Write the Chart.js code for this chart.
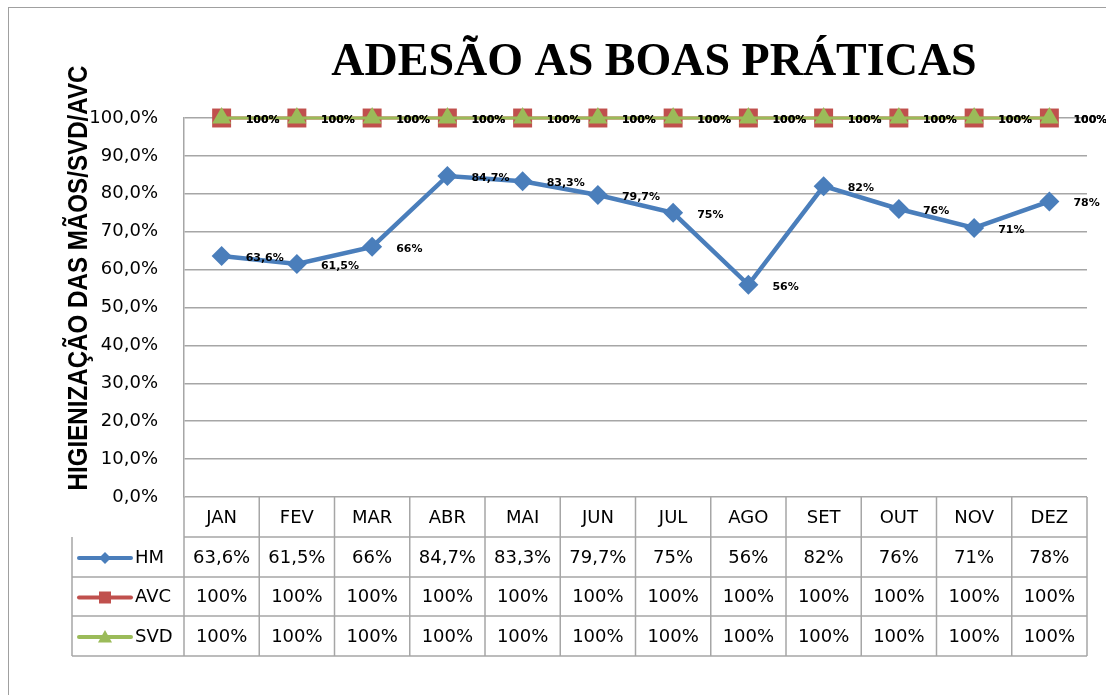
<!DOCTYPE html>
<html>
<head>
<meta charset="utf-8">
<script src="https://cdn.jsdelivr.net/npm/chart.js"></script>
<style>
  body { margin: 0; background: #fff; }
  canvas { display: block; }
</style>
</head>
<body>
<canvas id="chart" width="1106" height="695"></canvas>
<script>
// Данные графика
const months = ['JAN', 'FEV', 'MAR', 'ABR', 'MAI', 'JUN', 'JUL', 'AGO', 'SET', 'OUT', 'NOV', 'DEZ'];
const hmValues = [63.6, 61.5, 66, 84.7, 83.3, 79.7, 75, 56, 82, 76, 71, 78];
const avcValues = [100, 100, 100, 100, 100, 100, 100, 100, 100, 100, 100, 100];
const svdValues = [100, 100, 100, 100, 100, 100, 100, 100, 100, 100, 100, 100];
const yTicks = [0, 10, 20, 30, 40, 50, 60, 70, 80, 90, 100];

const chartTitle = 'ADESÃO AS BOAS PRÁTICAS';
const yTitle = 'HIGIENIZAÇÃO DAS MÃOS/SVD/AVC';

const BLUE = '#4a7ebb';
const RED = '#c0504d';
const GREEN = '#9bbb59';
const GRID = '#a6a6a6';

function fmtPct(v) {
    return String(v).replace('.', ',') + '%';
}

// Маркер для ключей легенды в таблице
function drawMarker(ctx, style, x, y, r, color) {
    ctx.fillStyle = color;
    ctx.beginPath();
    if (style === 'rectRot') {
        ctx.moveTo(x - r, y); ctx.lineTo(x, y - r); ctx.lineTo(x + r, y); ctx.lineTo(x, y + r);
    } else if (style === 'rect') {
        ctx.rect(x - r, y - r, 2 * r, 2 * r);
    } else {
        ctx.moveTo(x, y - r); ctx.lineTo(x + r, y + r * 0.8); ctx.lineTo(x - r, y + r * 0.8);
    }
    ctx.closePath();
    ctx.fill();
}

// Рамка, заголовки, подписи и таблица данных
const decorPlugin = {
    id: 'decor',
    beforeDraw(chart) {
        const ctx = chart.ctx;
        ctx.save();
        ctx.strokeStyle = '#a0a0a0';
        ctx.lineWidth = 1;
        ctx.strokeRect(8.5, 7.5, 1300, 900);
        ctx.restore();
    },
    afterDatasetsDraw(chart) {
        const ctx = chart.ctx;
        ctx.save();
        ctx.font = 'bold 11px "DejaVu Sans"';
        ctx.fillStyle = '#000';
        ctx.textBaseline = 'middle';
        ctx.textAlign = 'left';
        chart.data.datasets.forEach((ds, i) => {
            const meta = chart.getDatasetMeta(i);
            meta.data.forEach((pt, j) => {
                ctx.fillText(fmtPct(ds.data[j]), pt.x + 24, pt.y + 2);
            });
        });
        ctx.restore();
    },
    afterDraw(chart) {
        const ctx = chart.ctx;
        const area = chart.chartArea;
        const xs = chart.scales.x;
        ctx.save();

        // Заголовок
        ctx.fillStyle = '#000';
        ctx.font = 'bold 46px "Liberation Serif"';
        ctx.textAlign = 'center';
        ctx.textBaseline = 'alphabetic';
        ctx.fillText(chartTitle, 654, 75);

        // Подпись оси Y
        ctx.save();
        ctx.translate(87, 278);
        ctx.rotate(-Math.PI / 2);
        ctx.font = 'bold 28px "Liberation Sans Narrow", "Liberation Sans"';
        const w = ctx.measureText(yTitle).width;
        ctx.scale(425 / w, 1);
        ctx.fillText(yTitle, 0, 0);
        ctx.restore();

        // Таблица данных
        const rows = [
            { name: 'HM', values: hmValues, color: BLUE, marker: 'rectRot', r: 6, lw: 4 },
            { name: 'AVC', values: avcValues, color: RED, marker: 'rect', r: 6, lw: 4 },
            { name: 'SVD', values: svdValues, color: GREEN, marker: 'tri', r: 7, lw: 4 }
        ];
        const rowY = [area.bottom, 537, 577, 616, 656];
        const tableLeft = 72;
        const step = (area.right - area.left) / months.length;

        ctx.strokeStyle = GRID;
        ctx.lineWidth = 1.5;
        ctx.beginPath();
        for (let k = 1; k < rowY.length; k++) {
            ctx.moveTo(k === 1 ? area.left : tableLeft, rowY[k]);
            ctx.lineTo(area.right, rowY[k]);
        }
        ctx.moveTo(tableLeft, rowY[1]);
        ctx.lineTo(tableLeft, rowY[4]);
        for (let c = 0; c <= months.length; c++) {
            const x = area.left + c * step;
            ctx.moveTo(x, rowY[0]);
            ctx.lineTo(x, rowY[4]);
        }
        ctx.stroke();

        ctx.fillStyle = '#000';
        ctx.font = '18px "DejaVu Sans"';
        ctx.textBaseline = 'middle';
        ctx.textAlign = 'center';
        months.forEach((m, j) => {
            ctx.fillText(m, xs.getPixelForValue(j), (rowY[0] + rowY[1]) / 2 + 1);
        });
        rows.forEach((row, k) => {
            const cy = (rowY[k + 1] + rowY[k + 2]) / 2 + 1;
            ctx.textAlign = 'center';
            row.values.forEach((v, j) => {
                ctx.fillText(fmtPct(v), xs.getPixelForValue(j), cy);
            });
            // ключ легенды
            ctx.strokeStyle = row.color;
            ctx.lineWidth = row.lw;
            ctx.lineCap = 'round';
            ctx.beginPath();
            ctx.moveTo(79, cy);
            ctx.lineTo(131, cy);
            ctx.stroke();
            drawMarker(ctx, row.marker, 105, cy, row.r, row.color);
            ctx.fillStyle = '#000';
            ctx.textAlign = 'left';
            ctx.fillText(row.name, 135, cy);
        });
        ctx.restore();
    }
};

new Chart(document.getElementById('chart'), {
    type: 'line',
    data: {
        labels: months,
        datasets: [
            {
                label: 'HM', data: hmValues, order: 0, clip: false,
                borderColor: BLUE, backgroundColor: BLUE, borderWidth: 4.5,
                pointStyle: 'rectRot', pointRadius: 10, pointBorderWidth: 0
            },
            {
                label: 'SVD', data: svdValues, order: 1, clip: false,
                borderColor: GREEN, backgroundColor: GREEN, borderWidth: 3,
                pointStyle: 'triangle', pointRadius: 11, pointBorderWidth: 0
            },
            {
                label: 'AVC', data: avcValues, order: 2, clip: false,
                borderColor: RED, backgroundColor: RED, borderWidth: 3,
                pointStyle: 'rect', pointRadius: 13.4, pointBorderWidth: 0
            }
        ]
    },
    options: {
        responsive: false,
        animation: false,
        layout: { padding: { left: 0, top: 118, right: 19, bottom: 198 } },
        plugins: {
            legend: { display: false },
            tooltip: { enabled: false },
            title: { display: false }
        },
        scales: {
            x: {
                display: false,
                offset: true
            },
            y: {
                min: 0,
                max: 100,
                afterFit(scale) { scale.width = 184; },
                afterBuildTicks(scale) { scale.ticks = yTicks.map(v => ({ value: v })); },
                grid: { color: GRID, lineWidth: 1.5, drawTicks: false },
                border: { color: GRID, width: 1.5 },
                ticks: {
                    padding: 26,
                    color: '#000',
                    font: { family: 'DejaVu Sans', size: 18 },
                    callback: v => v.toFixed(1).replace('.', ',') + '%'
                }
            }
        }
    },
    plugins: [decorPlugin]
});
</script>
</body>
</html>
